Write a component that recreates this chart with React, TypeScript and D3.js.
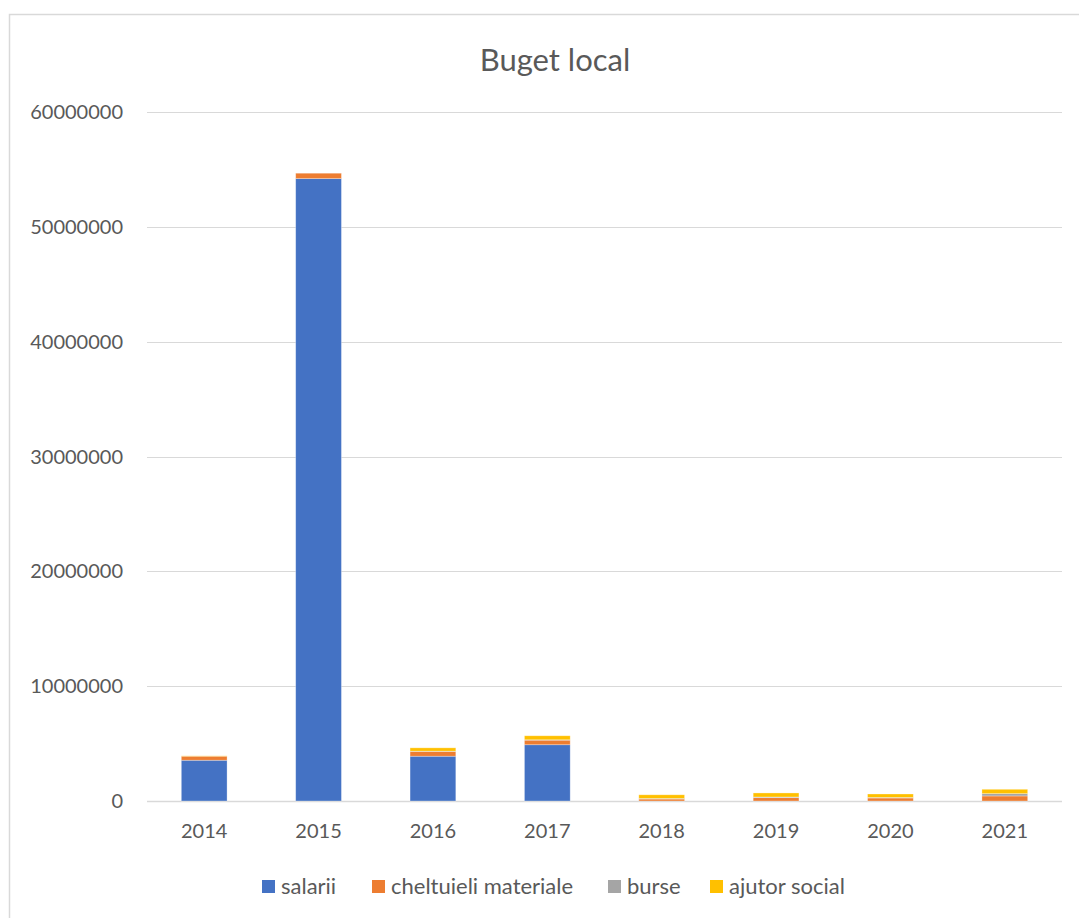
import React from 'react';
import * as d3 from 'd3';

const years = ['2014', '2015', '2016', '2017', '2018', '2019', '2020', '2021'];
const salarii = [3550000, 54200000, 3900000, 4900000, 0, 0, 0, 0];
const cheltuieli = [350000, 470000, 410000, 400000, 170000, 290000, 260000, 440000];
const burse = [0, 0, 30000, 30000, 50000, 60000, 50000, 200000];
const ajutor = [30000, 0, 290000, 350000, 320000, 350000, 300000, 380000];
const yTicks = [0, 10000000, 20000000, 30000000, 40000000, 50000000, 60000000];

const seriesNames = ['salarii', 'cheltuieli materiale', 'burse', 'ajutor social'];
const seriesColors = ['#4472C4', '#ED7D31', '#A5A5A5', '#FFC000'];

const W = 1079;
const H = 918;
const margin = { top: 112, right: 17, bottom: 117, left: 147 };
const textColor = '#595959';
const font = 'Lato, "Open Sans", sans-serif';

export default function App() {
  const rows = years.map((y, i) => ({
    year: y,
    s0: salarii[i],
    s1: cheltuieli[i],
    s2: burse[i],
    s3: ajutor[i],
  }));
  const stack = d3.stack<any>().keys(['s0', 's1', 's2', 's3']);
  const layers = stack(rows);

  const x = d3.scaleBand().domain(years).range([margin.left, W - margin.right]).paddingInner(0.6).paddingOuter(0.3);
  const y = d3.scaleLinear().domain([0, 60000000]).range([H - margin.bottom, margin.top]);

  // legend item x positions (square left edges)
  const legendX = [262, 372, 608, 710];

  return (
    <svg width={W} height={H} style={{ position: 'absolute', left: 0, top: 0, background: '#fff' }} fontFamily={font}>
      <rect x={9.5} y={14.5} width={W + 10} height={H + 10} fill="#fff" stroke="#d9d9d9" strokeWidth={1.5} />
      <text x={555} y={71} textAnchor="middle" fontSize={31} fill={textColor}>Buget local</text>

      {yTicks.map(t => (
        <g key={t}>
          <line x1={margin.left} x2={W - margin.right} y1={Math.round(y(t)) + 0.5} y2={Math.round(y(t)) + 0.5} stroke="#d9d9d9" strokeWidth={t === 0 ? 1.5 : 1} />
          <text x={123} y={y(t)} dy="0.35em" textAnchor="end" fontSize={20} fill={textColor}>{t}</text>
        </g>
      ))}

      {layers.map((layer, li) => (
        <g key={li} fill={seriesColors[li]}>
          {layer.map((d, i) => {
            const h = y(d[0]) - y(d[1]);
            if (h <= 0) return null;
            return (
              <rect key={i} x={x(years[i])} width={x.bandwidth()} y={y(d[1])} height={h} stroke="#fff" strokeOpacity={0.4} strokeWidth={0.75} />
            );
          })}
        </g>
      ))}

      {years.map(yr => (
        <text key={yr} x={(x(yr) || 0) + x.bandwidth() / 2} y={838} textAnchor="middle" fontSize={20} fill={textColor}>{yr}</text>
      ))}

      {seriesNames.map((n, i) => (
        <g key={n}>
          <rect x={legendX[i]} y={880} width={13} height={13} fill={seriesColors[i]} />
          <text x={legendX[i] + 19} y={894} fontSize={22} fill={textColor}>{n}</text>
        </g>
      ))}
    </svg>
  );
}
